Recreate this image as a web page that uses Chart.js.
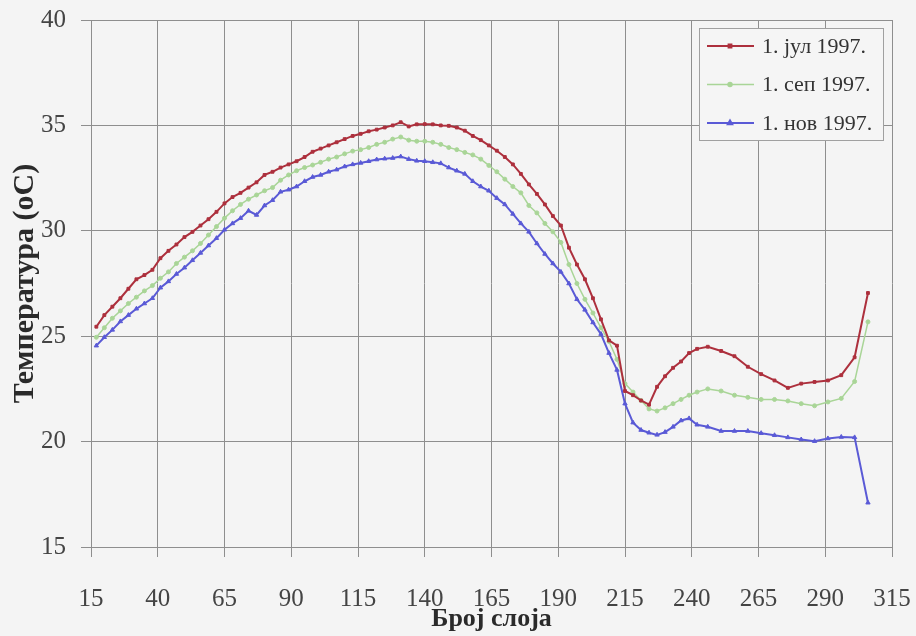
<!DOCTYPE html>
<html>
<head>
<meta charset="utf-8">
<script src="https://cdn.jsdelivr.net/npm/chart.js@4.4.1/dist/chart.umd.min.js"></script>
<style>
  html, body { margin: 0; padding: 0; background: #f4f4f4; }
  #wrap { width: 916px; height: 636px; }
</style>
</head>
<body>
<div id="wrap"><canvas id="chart" width="916" height="636"></canvas></div>
<script>
// layer number (x)
const layers = [
  17, 20, 23, 26, 29, 32, 35, 38, 41, 44, 47, 50, 53, 56, 59, 62, 65, 68, 71, 74,
  77, 80, 83, 86, 89, 92, 95, 98, 101, 104, 107, 110, 113, 116, 119, 122, 125, 128, 131, 134,
  137, 140, 143, 146, 149, 152, 155, 158, 161, 164, 167, 170, 173, 176, 179, 182, 185, 188, 191, 194,
  197, 200, 203, 206, 209, 212, 215, 218, 221, 224, 227, 230, 233, 236, 239, 242,
  246, 251, 256, 261, 266, 271, 276, 281, 286, 291, 296, 301, 306
];

// temperatures, 1 July 1997
const jul = [
  25.45, 26.0, 26.4, 26.8, 27.25, 27.7, 27.9, 28.15, 28.7, 29.05, 29.35, 29.7, 29.95, 30.25, 30.55, 30.9, 31.3, 31.6, 31.8, 32.05,
  32.3, 32.65, 32.8, 33.0, 33.15, 33.3, 33.5, 33.75, 33.9, 34.05, 34.2, 34.35, 34.5, 34.6, 34.72, 34.8, 34.9, 35.0, 35.15, 34.95,
  35.05, 35.06, 35.05, 35.0, 34.98, 34.9, 34.75, 34.5, 34.3, 34.05, 33.8, 33.5, 33.15, 32.7, 32.2, 31.75, 31.25, 30.7, 30.25, 29.2,
  28.4, 27.7, 26.8, 25.8, 24.8, 24.55, 22.4, 22.2, 21.95, 21.75, 22.6, 23.1, 23.5, 23.8, 24.2, 24.4,
  24.5, 24.3, 24.05, 23.55, 23.2, 22.9, 22.55, 22.75, 22.83, 22.9, 23.15, 24.0, 27.05
];

// temperatures, 1 September 1997
const sep = [
  24.95, 25.4, 25.85, 26.2, 26.55, 26.85, 27.15, 27.4, 27.75, 28.05, 28.45, 28.75, 29.05, 29.4, 29.8, 30.2, 30.6, 30.95, 31.25, 31.5,
  31.7, 31.9, 32.05, 32.4, 32.65, 32.85, 33.0, 33.12, 33.25, 33.4, 33.5, 33.65, 33.78, 33.85, 33.95, 34.1, 34.2, 34.35, 34.45, 34.3,
  34.25, 34.25, 34.2, 34.1, 33.95, 33.85, 33.72, 33.6, 33.4, 33.1, 32.8, 32.45, 32.1, 31.8, 31.2, 30.85, 30.35, 29.95, 29.45, 28.4,
  27.5, 26.75, 26.1, 25.4, 24.75, 23.9, 22.75, 22.35, 21.95, 21.55, 21.45, 21.6, 21.8, 22.0, 22.2, 22.35,
  22.5, 22.4, 22.2, 22.1, 22.0, 22.0, 21.93, 21.8, 21.7, 21.88, 22.05, 22.85, 25.68
];

// temperatures, 1 November 1997
const nov = [
  24.55, 24.95, 25.3, 25.7, 26.0, 26.3, 26.55, 26.8, 27.3, 27.6, 27.95, 28.25, 28.6, 28.95, 29.3, 29.65, 30.05, 30.35, 30.6, 30.95,
  30.75, 31.2, 31.45, 31.85, 31.95, 32.1, 32.35, 32.55, 32.65, 32.8, 32.9, 33.05, 33.15, 33.22, 33.3, 33.38, 33.42, 33.45, 33.52, 33.4,
  33.32, 33.3, 33.25, 33.2, 33.0, 32.85, 32.7, 32.35, 32.1, 31.9, 31.55, 31.25, 30.8, 30.35, 29.95, 29.4, 28.9, 28.45, 28.05, 27.5,
  26.75, 26.25, 25.65, 25.1, 24.2, 23.4, 21.8, 20.9, 20.55, 20.42, 20.32, 20.45, 20.7, 21.0, 21.1, 20.8,
  20.7, 20.5, 20.5, 20.5, 20.4, 20.3, 20.2, 20.1, 20.02, 20.15, 20.22, 20.2, 17.1
];

const seriesNames = ['1. јул 1997.', '1. сеп 1997.', '1. нов 1997.'];
const xTitle = 'Број слоја';
const yTitle = 'Температура (oC)';

const serif = '"Liberation Serif", "Times New Roman", serif';
const gridColor = '#8e8e8e';

function toPoints(values) {
  return layers.map((x, i) => ({ x: x, y: values[i] }));
}

function makeSeries(label, values, color, style, radius, width) {
  return {
    label: label,
    data: toPoints(values),
    borderColor: color,
    backgroundColor: color,
    borderWidth: width,
    pointStyle: style,
    pointRadius: radius,
    pointBorderWidth: 1,
    tension: 0
  };
}

// legend with a frame, drawn inside the plot area
const boxLegend = {
  id: 'boxLegend',
  afterDraw(chart) {
    const ctx = chart.ctx;
    const area = chart.chartArea;
    const w = 184, h = 112;
    const left = area.right - 9 - w;
    const top = area.top + 8;
    ctx.save();
    ctx.fillStyle = '#f5f5f5';
    ctx.fillRect(left, top, w, h);
    ctx.strokeStyle = '#a0a0a0';
    ctx.lineWidth = 1;
    ctx.strokeRect(left + 0.5, top + 0.5, w, h);
    chart.data.datasets.forEach((ds, i) => {
      const y = top + 18 + i * 38.5;
      ctx.strokeStyle = ds.borderColor;
      ctx.lineWidth = ds.borderWidth;
      ctx.beginPath();
      ctx.moveTo(left + 8, y);
      ctx.lineTo(left + 55, y);
      ctx.stroke();
      ctx.fillStyle = ds.borderColor;
      Chart.helpers.drawPoint(ctx, {
        pointStyle: ds.pointStyle, radius: ds.pointRadius, borderWidth: 1, rotation: 0
      }, left + 31, y);
      ctx.fillStyle = '#333333';
      ctx.font = '22px ' + serif;
      ctx.textBaseline = 'middle';
      ctx.textAlign = 'left';
      ctx.fillText(ds.label, left + 63, y + 1);
    });
    ctx.restore();
  }
};

new Chart(document.getElementById('chart'), {
  type: 'line',
  data: {
    datasets: [
      makeSeries(seriesNames[0], jul, '#ad303d', 'rect', 2, 2),
      makeSeries(seriesNames[1], sep, '#a9d597', 'circle', 2, 1.5),
      makeSeries(seriesNames[2], nov, '#5a5ad6', 'triangle', 2.5, 2)
    ]
  },
  options: {
    responsive: false,
    animation: false,
    devicePixelRatio: 1,
    layout: { padding: { top: 20, right: 24, left: 0, bottom: 0 } },
    plugins: {
      legend: { display: false },
      tooltip: { enabled: false }
    },
    scales: {
      x: {
        type: 'linear',
        min: 15,
        max: 315,
        afterFit: (scale) => {
          scale.height = 89;
          scale.paddingLeft = 0;
          scale.paddingRight = 0;
        },
        ticks: { stepSize: 25, color: '#444444', padding: 27, maxRotation: 0, font: { family: serif, size: 25 } },
        grid: { color: gridColor, tickColor: gridColor, tickLength: 10, lineWidth: 1 },
        border: { color: gridColor },
        title: {
          display: true, text: xTitle, color: '#2a2a2a',
          padding: { top: 0, bottom: 1 },
          font: { family: serif, size: 26, weight: 'bold' }
        }
      },
      y: {
        min: 15,
        max: 40,
        afterFit: (scale) => {
          scale.width = 91;
          scale.paddingTop = 0;
          scale.paddingBottom = 0;
        },
        ticks: { stepSize: 5, color: '#444444', padding: 15, font: { family: serif, size: 25 } },
        grid: { color: gridColor, tickColor: gridColor, tickLength: 10, lineWidth: 1 },
        border: { color: gridColor },
        title: {
          display: true, text: yTitle, color: '#2a2a2a',
          padding: { top: 7, bottom: 0 },
          font: { family: serif, size: 30, weight: 'bold' }
        }
      }
    }
  },
  plugins: [boxLegend]
});
</script>
</body>
</html>
